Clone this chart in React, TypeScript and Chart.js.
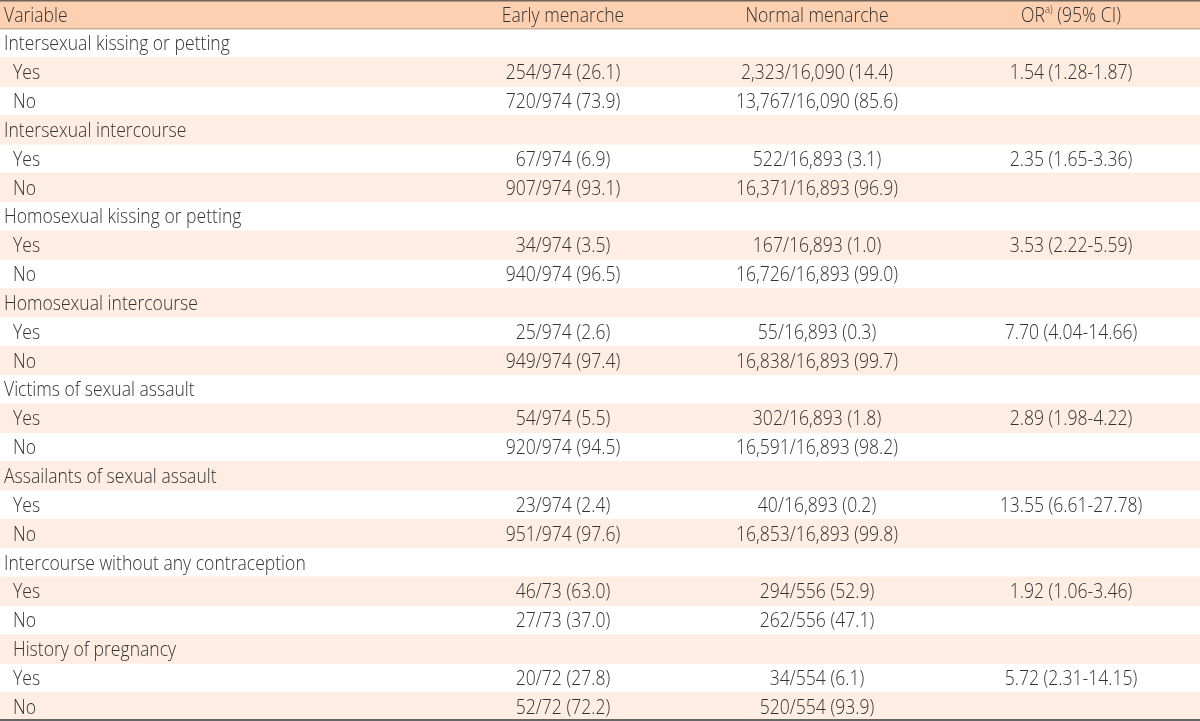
import React, { useEffect, useRef } from "react";
import { Chart, registerables } from "chart.js";

Chart.register(...registerables);

const headers = ["Variable", "Early menarche", "Normal menarche", "OR", "a)", " (95% CI)"];

const variables = [
  "Intersexual kissing or petting", " Yes", " No",
  "Intersexual intercourse", " Yes", " No",
  "Homosexual kissing or petting", " Yes", " No",
  "Homosexual intercourse", " Yes", " No",
  "Victims of sexual assault", " Yes", " No",
  "Assailants of sexual assault", " Yes", " No",
  "Intercourse without any contraception", " Yes", " No",
  " History of pregnancy", " Yes", " No",
];

const earlyMenarche = [
  "", "254/974 (26.1)", "720/974 (73.9)",
  "", "67/974 (6.9)", "907/974 (93.1)",
  "", "34/974 (3.5)", "940/974 (96.5)",
  "", "25/974 (2.6)", "949/974 (97.4)",
  "", "54/974 (5.5)", "920/974 (94.5)",
  "", "23/974 (2.4)", "951/974 (97.6)",
  "", "46/73 (63.0)", "27/73 (37.0)",
  "", "20/72 (27.8)", "52/72 (72.2)",
];

const normalMenarche = [
  "", "2,323/16,090 (14.4)", "13,767/16,090 (85.6)",
  "", "522/16,893 (3.1)", "16,371/16,893 (96.9)",
  "", "167/16,893 (1.0)", "16,726/16,893 (99.0)",
  "", "55/16,893 (0.3)", "16,838/16,893 (99.7)",
  "", "302/16,893 (1.8)", "16,591/16,893 (98.2)",
  "", "40/16,893 (0.2)", "16,853/16,893 (99.8)",
  "", "294/556 (52.9)", "262/556 (47.1)",
  "", "34/554 (6.1)", "520/554 (93.9)",
];

const oddsRatio = [
  "", "1.54 (1.28-1.87)", "",
  "", "2.35 (1.65-3.36)", "",
  "", "3.53 (2.22-5.59)", "",
  "", "7.70 (4.04-14.66)", "",
  "", "2.89 (1.98-4.22)", "",
  "", "13.55 (6.61-27.78)", "",
  "", "1.92 (1.06-3.46)", "",
  "", "5.72 (2.31-14.15)", "",
];

const rowLabels = ["header", ...variables];

const FONT_FAMILY = "'Open Sans', 'Noto Sans', sans-serif";
const FONT_SIZE = 19.8;
const FONT_WEIGHT = 300;
const TEXT_COLOR = "#333333";

export default function App() {
  const canvasRef = useRef<HTMLCanvasElement | null>(null);

  useEffect(() => {
    if (!canvasRef.current) return;

    const tablePlugin = {
      id: "tableText",
      afterDatasetsDraw(chart: any) {
        const ctx = chart.ctx as CanvasRenderingContext2D;
        const xs = chart.scales.x;
        const ys = chart.scales.y;
        const area = chart.chartArea;
        const font = `${FONT_WEIGHT} ${FONT_SIZE}px ${FONT_FAMILY}`;
        ctx.save();
        ctx.font = font;
        const k1 = 304 / ctx.measureText("Intercourse without any contraception").width;
        const k2 = 161 / ctx.measureText("16,371/16,893 (96.9)").width;
        const k = (k1 + k2) / 2;
        const capOffset = FONT_SIZE * 0.36;

        const drawText = (text: string, x: number, y: number, align: "left" | "center", f = font) => {
          ctx.save();
          ctx.font = f;
          const w = ctx.measureText(text).width * k;
          const left = align === "left" ? x : x - w / 2;
          ctx.translate(left, y);
          ctx.scale(k, 1);
          ctx.textAlign = "left";
          ctx.textBaseline = "alphabetic";
          ctx.fillStyle = TEXT_COLOR;
          ctx.fillText(text, 0, 0);
          ctx.restore();
          return w;
        };

        const xVar = xs.getPixelForValue(4);
        const xIndent = xs.getPixelForValue(13);
        const xEarly = xs.getPixelForValue(563);
        const xNormal = xs.getPixelForValue(817);
        const xOR = xs.getPixelForValue(1071);

        // header row
        const yh = ys.getPixelForValue(0) + capOffset;
        drawText(headers[0], xVar, yh, "left");
        drawText(headers[1], xEarly, yh, "center");
        drawText(headers[2], xNormal, yh, "center");
        {
          const smallFont = `${FONT_WEIGHT} ${FONT_SIZE * 0.55}px ${FONT_FAMILY}`;
          ctx.font = font;
          const wOR = ctx.measureText(headers[3]).width * k;
          const wCI = ctx.measureText(headers[5]).width * k;
          ctx.font = smallFont;
          const wSup = ctx.measureText(headers[4]).width * k;
          const total = wOR + wSup + wCI;
          let x = xOR - total / 2;
          drawText(headers[3], x, yh, "left");
          x += wOR;
          drawText(headers[4], x, yh - FONT_SIZE * 0.42, "left", smallFont);
          x += wSup;
          drawText(headers[5], x, yh, "left");
        }

        variables.forEach((label, i) => {
          const y = ys.getPixelForValue(i + 1) + capOffset;
          const indented = label.startsWith(" ");
          drawText(label.trim(), indented ? xIndent : xVar, y, "left");
          if (earlyMenarche[i]) drawText(earlyMenarche[i], xEarly, y, "center");
          if (normalMenarche[i]) drawText(normalMenarche[i], xNormal, y, "center");
          if (oddsRatio[i]) drawText(oddsRatio[i], xOR, y, "center");
        });

        // rules
        ctx.fillStyle = "#6e625a";
        ctx.fillRect(area.left, area.top, area.right - area.left, 1.5);
        const headerBottom = ys.getPixelForValue(0) + (ys.getPixelForValue(1) - ys.getPixelForValue(0)) / 2;
        ctx.fillStyle = "rgba(120,100,90,0.55)";
        ctx.fillRect(area.left, headerBottom - 0.5, area.right - area.left, 1);
        ctx.fillStyle = "#666666";
        ctx.fillRect(area.left, area.bottom - 2, area.right - area.left, 2);
        ctx.restore();
      },
    };

    const headerData = rowLabels.map((_, i) => (i === 0 ? [0, 1200] : null));
    const stripeData = rowLabels.map((_, i) => (i > 0 && i % 2 === 0 ? [0, 1200] : null));

    const chart = new Chart(canvasRef.current, {
      type: "bar",
      data: {
        labels: rowLabels,
        datasets: [
          {
            label: "header",
            data: headerData as any,
            backgroundColor: "#fdd0b1",
            borderWidth: 0,
            barPercentage: 1,
            categoryPercentage: 1,
            grouped: false,
          } as any,
          {
            label: "stripes",
            data: stripeData as any,
            backgroundColor: "#feede2",
            borderWidth: 0,
            barPercentage: 1,
            categoryPercentage: 1,
            grouped: false,
          } as any,
        ],
      },
      options: {
        indexAxis: "y",
        responsive: false,
        animation: false,
        devicePixelRatio: 1,
        layout: { padding: 0 },
        plugins: {
          legend: { display: false },
          tooltip: { enabled: false },
          title: { display: false },
        },
        scales: {
          x: { type: "linear", min: 0, max: 1200, display: false },
          y: { type: "category", display: false, offset: true },
        },
      },
      plugins: [tablePlugin],
    });

    return () => chart.destroy();
  }, []);

  return (
    <div style={{ position: "absolute", left: 0, top: 0, width: 1200, height: 721, background: "#ffffff" }}>
      <canvas ref={canvasRef} width={1200} height={721} />
    </div>
  );
}
